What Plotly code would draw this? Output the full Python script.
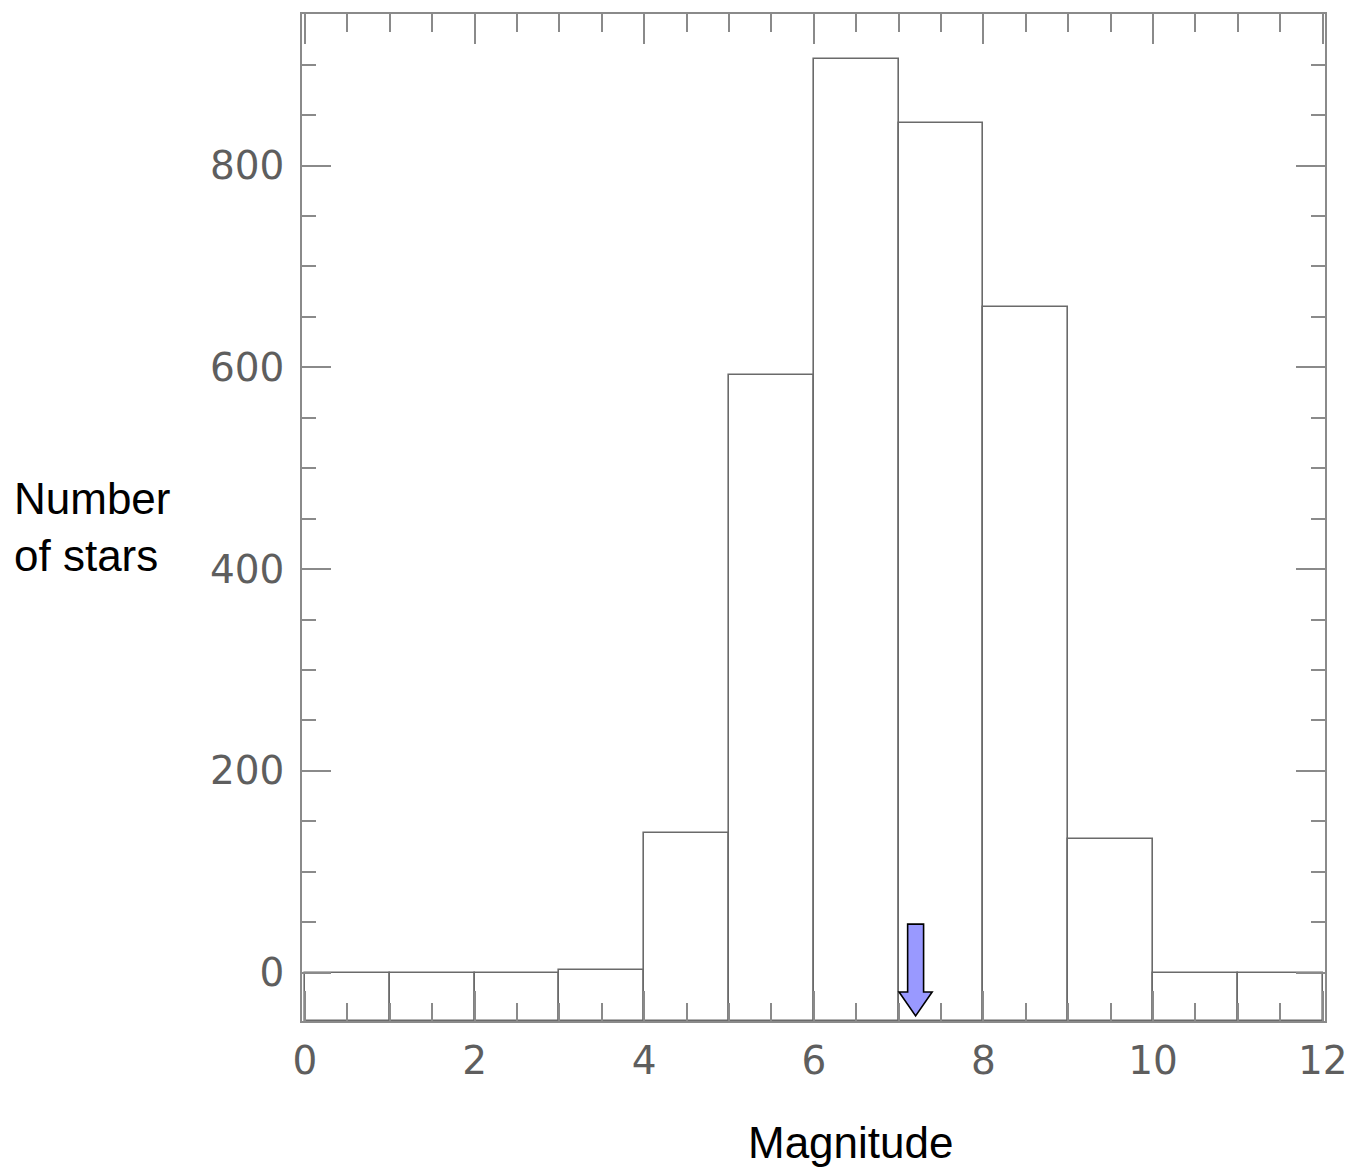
import plotly.graph_objects as go

# ---- data ----
bin_left = [0, 1, 2, 3, 4, 5, 6, 7, 8, 9, 10, 11]
counts = [0, 0, 0, 3, 138, 592, 906, 842, 660, 132, 0, 0]
x_tick_vals = [0, 2, 4, 6, 8, 10, 12]
x_tick_text = ["0", "2", "4", "6", "8", "10", "12"]
y_tick_vals = [0, 200, 400, 600, 800]
y_tick_text = ["0", "200", "400", "600", "800"]
arrow_mag = 7.2  # magnitude marked by the arrow

# ---- styling / geometry ----
OFF = 8  # page body margin
W, H = 1354 - OFF, 1175 - OFF
ML, MT = 302 - OFF, 12 - OFF
plot_w, plot_h = 1023, 1009
MR = W - ML - plot_w
MB = H - MT - plot_h
XR = [-0.035, 12.027]
YR = [-48, 950.3]
AX = "#8a8a8a"
BAR_LINE = "#6a6a6a"
TICK_FONT = dict(family="DejaVu Sans", size=39, color="#5e5e5e")
LABEL_FONT = dict(family="Liberation Sans, Arial", size=44, color="black")

centers = [b + 0.5 for b in bin_left]
base_val = YR[0]
lengths = [c - base_val for c in counts]

fig = go.Figure()
fig.add_trace(go.Bar(
    x=centers, y=lengths, base=[base_val] * len(counts), width=1,
    marker=dict(color="rgba(255,255,255,0)", line=dict(color=BAR_LINE, width=1.6)),
    customdata=counts, hovertemplate="%{customdata}<extra></extra>",
    showlegend=False,
))

# arrow marker (annotation) at arrow_mag
sw, hw = 0.094, 0.195
y_top, y_head, y_tip = 48, -19.3, -43
path = (f"M {arrow_mag-sw},{y_top} L {arrow_mag+sw},{y_top} L {arrow_mag+sw},{y_head} "
        f"L {arrow_mag+hw},{y_head} L {arrow_mag},{y_tip} L {arrow_mag-hw},{y_head} "
        f"L {arrow_mag-sw},{y_head} Z")
fig.add_shape(type="path", path=path, xref="x", yref="y",
              fillcolor="#9999ff", line=dict(color="black", width=1.6), layer="above")

def px_x(px):
    return (px - 302) / plot_w

def px_y(py):
    return (1021 - py) / plot_h

fig.add_annotation(text="Number<br>of stars", xref="paper", yref="paper",
                   x=px_x(12), y=px_y(526),
                   xanchor="left", yanchor="middle", align="left", showarrow=False,
                   font=LABEL_FONT)
fig.add_annotation(text="Magnitude", xref="paper", yref="paper",
                   x=px_x(850), y=px_y(1143),
                   xanchor="center", yanchor="middle", showarrow=False,
                   font=LABEL_FONT)

fig.update_layout(
    width=W, height=H,
    margin=dict(l=ML, r=MR, t=MT, b=MB),
    plot_bgcolor="white", paper_bgcolor="white",
    bargap=0,
    xaxis=dict(range=XR, tickmode="array", tickvals=x_tick_vals, ticktext=x_tick_text,
               ticks="inside", ticklen=30, tickwidth=1.5, tickcolor=AX,
               showline=True, linecolor=AX, linewidth=1.5, mirror="allticks",
               showgrid=False, zeroline=False, tickfont=TICK_FONT,
               minor=dict(tickmode="linear", tick0=0, dtick=0.5, ticks="inside",
                          ticklen=18, tickwidth=1.5, tickcolor=AX, showgrid=False),
               ticklabelstandoff=4),
    yaxis=dict(range=YR, tickmode="array", tickvals=y_tick_vals, ticktext=y_tick_text,
               ticks="inside", ticklen=29, tickwidth=1.5, tickcolor=AX,
               showline=True, linecolor=AX, linewidth=1.5, mirror="allticks",
               showgrid=False, zeroline=False, tickfont=TICK_FONT,
               minor=dict(tickmode="linear", tick0=0, dtick=50, ticks="inside",
                          ticklen=14, tickwidth=1.5, tickcolor=AX, showgrid=False),
               ticklabelstandoff=8),
)

fig.write_html("out.html")
